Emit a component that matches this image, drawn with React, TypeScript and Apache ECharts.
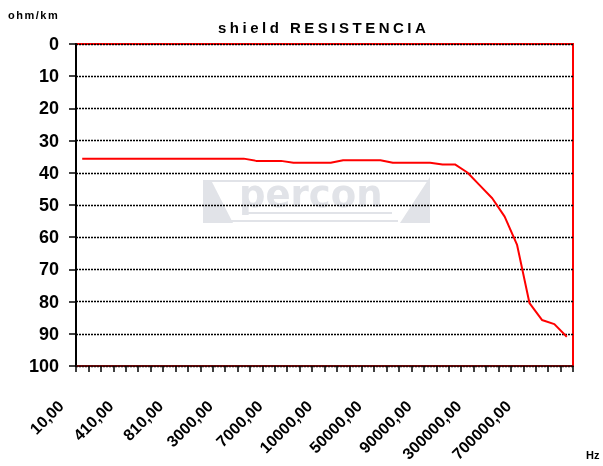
import React, { useEffect, useRef } from 'react';
import * as echarts from 'echarts';

const categories = [
  '10,00', '110,00', '210,00', '310,00', '410,00', '510,00', '610,00', '710,00',
  '810,00', '910,00', '1000,00', '2000,00', '3000,00', '4000,00', '5000,00', '6000,00',
  '7000,00', '8000,00', '9000,00', '9500,00', '10000,00', '20000,00', '30000,00', '40000,00',
  '50000,00', '60000,00', '70000,00', '80000,00', '90000,00', '100000,00', '200000,00', '250000,00',
  '300000,00', '400000,00', '500000,00', '600000,00', '700000,00', '800000,00', '900000,00', '1000000,00',
];

const resistance = [
  35.6, 35.6, 35.6, 35.6, 35.6, 35.6, 35.6, 35.6, 35.6, 35.6,
  35.6, 35.6, 35.6, 35.6, 36.3, 36.3, 36.3, 36.9, 36.9, 36.9,
  36.9, 36.1, 36.1, 36.1, 36.1, 36.9, 36.9, 36.9, 36.9, 37.4,
  37.4, 39.9, 43.9, 47.9, 53.6, 62.4, 80.5, 85.7, 87.0, 90.9,
];

const yMin = 0;
const yMax = 100;
const yStep = 10;

const titleText = 'shield RESISTENCIA';
const yUnit = 'ohm/km';
const xUnit = 'Hz';
const watermarkText = 'percon';

export default function App() {
  const ref = useRef<HTMLDivElement>(null);

  useEffect(() => {
    document.body.style.margin = '0';
    const el = ref.current!;
    const chart = echarts.init(el, null, { renderer: 'svg' });
    const wm = '#e1e3e8';
    chart.setOption({
      animation: false,
      title: {
        text: titleText,
        left: 213,
        top: 15,
        textStyle: { fontFamily: 'Arial', fontWeight: 'bold', fontSize: 15, color: '#000' },
      },
      grid: {
        left: 76,
        right: 30,
        top: 44,
        bottom: 100,
        containLabel: false,
        outerBoundsMode: 'none',
        show: true,
        borderColor: '#ff0000',
        borderWidth: 2,
        backgroundColor: 'transparent',
      },
      xAxis: {
        type: 'category',
        data: categories,
        boundaryGap: true,
        axisLine: { onZero: false, lineStyle: { color: '#3a0a0a', width: 1.5 } },
        axisTick: { show: true, interval: 0, length: 6, lineStyle: { color: '#000', width: 1.5 } },
        axisLabel: {
          interval: 3,
          rotate: 45,
          margin: 16,
          padding: [0, 30, 0, 0],
          color: '#000',
          fontSize: 16,
          fontWeight: 'bold',
          fontFamily: 'Arial',
        },
        splitLine: { show: false },
      },
      yAxis: {
        type: 'value',
        inverse: true,
        min: yMin,
        max: yMax,
        interval: yStep,
        axisLine: { show: true, lineStyle: { color: '#000', width: 2 } },
        axisTick: { show: true, length: 7, lineStyle: { color: '#000', width: 1.5 } },
        axisLabel: { color: '#000', fontSize: 18, fontWeight: 'bold', fontFamily: 'Arial', margin: 17 },
        splitLine: { show: true, lineStyle: { color: '#000', type: [2, 1], width: 1.3 } },
      },
      graphic: [
        { type: 'text', left: 8, top: 9, style: { text: yUnit, fontFamily: 'Arial', fontWeight: 'bold', fontSize: 11, fill: '#000' } },
        { type: 'text', left: 586, top: 449, style: { text: xUnit, fontFamily: 'Arial', fontWeight: 'bold', fontSize: 11, fill: '#000' } },
        { type: 'rect', z: -10, shape: { x: 203, y: 180, width: 225, height: 2 }, style: { fill: wm } },
        { type: 'polygon', z: -10, shape: { points: [[203, 182], [212, 182], [233, 223], [203, 223]] }, style: { fill: wm } },
        { type: 'polygon', z: -10, shape: { points: [[430, 177], [430, 223], [400, 223]] }, style: { fill: wm } },
        { type: 'rect', z: -10, shape: { x: 248, y: 212, width: 144, height: 2 }, style: { fill: wm } },
        { type: 'rect', z: -10, shape: { x: 212, y: 220, width: 186, height: 2 }, style: { fill: wm } },
        {
          type: 'text', z: -10, x: 239, y: 194,
          style: { text: watermarkText, fontFamily: 'DejaVu Sans', fontWeight: 'bold', fontSize: 37, fill: wm, verticalAlign: 'middle', align: 'left' },
        },
      ],
      series: [
        {
          type: 'line',
          data: resistance,
          showSymbol: false,
          symbol: 'none',
          lineStyle: { color: '#ff0000', width: 2 },
          itemStyle: { color: '#ff0000' },
        },
      ],
    });

    const applySpacing = () => {
      el.querySelectorAll('text').forEach((t) => {
        const s = t.textContent;
        if (s === titleText) t.setAttribute('letter-spacing', '3.5');
        else if (s === yUnit) t.setAttribute('letter-spacing', '1.5');
      });
    };
    applySpacing();
    chart.on('finished', applySpacing);

    return () => {
      chart.dispose();
    };
  }, []);

  return <div ref={ref} style={{ position: 'fixed', left: 0, top: 0, width: 603, height: 466 }} />;
}
